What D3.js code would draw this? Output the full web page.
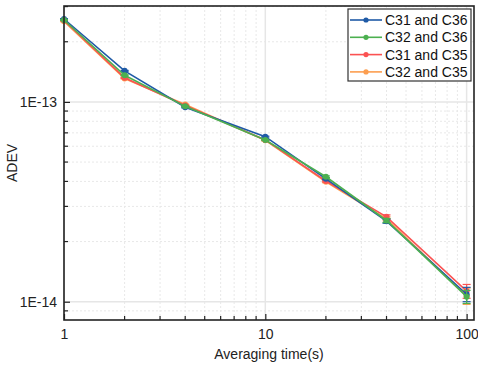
<!DOCTYPE html>
<html>
<head>
<meta charset="utf-8">
<script src="https://cdn.jsdelivr.net/npm/d3@7/dist/d3.min.js"></script>
<style>
  body { margin: 0; background: #fff; }
  svg { font-family: Arial, "Liberation Sans", sans-serif; }
</style>
</head>
<body>
<div id="chart"></div>
<script>
// averaging times (s)
const tau = [1, 2, 4, 10, 20, 40, 100];

const seriesNames = ['C31 and C36', 'C32 and C36', 'C31 and C35', 'C32 and C35'];
const seriesColors = ['#1f5aa6', '#4cb050', '#fb5252', '#fc9e50'];

// ADEV values
const adevC31C36 = [2.60e-13, 1.43e-13, 9.4e-14, 6.70e-14, 4.12e-14, 2.53e-14, 1.09e-14];
const adevC32C36 = [2.57e-13, 1.36e-13, 9.5e-14, 6.45e-14, 4.22e-14, 2.55e-14, 1.06e-14];
const adevC31C35 = [2.56e-13, 1.32e-13, 9.6e-14, 6.45e-14, 4.02e-14, 2.66e-14, 1.13e-14];
const adevC32C35 = [2.53e-13, 1.31e-13, 9.7e-14, 6.42e-14, 3.98e-14, 2.60e-14, 1.07e-14];

// error bar half-heights
const errC31C36 = [1e-15, 8e-16, 6e-16, 4e-16, 4e-16, 6e-16, 9e-16];
const errC32C36 = [1e-15, 8e-16, 6e-16, 4e-16, 4e-16, 6e-16, 8e-16];
const errC31C35 = [1e-15, 8e-16, 6e-16, 4e-16, 4e-16, 6e-16, 9e-16];
const errC32C35 = [1e-15, 8e-16, 6e-16, 4e-16, 4e-16, 6e-16, 1.0e-15];

const xTickLabels = [1, 10, 100];
const yTickLabels = [1e-14, 1e-13];

const values = [adevC31C36, adevC32C36, adevC31C35, adevC32C35];
const errors = [errC31C36, errC32C36, errC31C35, errC32C35];

const width = 478, height = 367;
const margin = { top: 6, right: 4, bottom: 47, left: 64 };
const plotW = width - margin.left - margin.right;
const plotH = height - margin.top - margin.bottom;

const svg = d3.select('#chart')
  .append('svg')
  .attr('width', width)
  .attr('height', height);

const g = svg.append('g')
  .attr('transform', `translate(${margin.left},${margin.top})`);

const x = d3.scaleLog()
  .domain([1, 108.8])
  .range([0, plotW]);

const y = d3.scaleLog()
  .domain([8.1e-15, 3.02e-13])
  .range([plotH, 0]);

// minor / major tick values
const xMinor = [], yMinor = [];
[1, 10, 100].forEach(d => {
  for (let k = 2; k <= 9; k++) if (d * k <= 108.8) xMinor.push(d * k);
});
[1e-15, 1e-14, 1e-13].forEach(d => {
  for (let k = 2; k <= 9; k++) {
    const v = d * k;
    if (v >= 8.1e-15 && v <= 3.02e-13) yMinor.push(v);
  }
});

// grid lines
g.append('g').selectAll('line')
  .data(xMinor)
  .join('line')
  .attr('x1', d => x(d)).attr('x2', d => x(d))
  .attr('y1', 0).attr('y2', plotH)
  .attr('stroke', '#e8e8e8')
  .attr('stroke-dasharray', '2,2');

g.append('g').selectAll('line')
  .data(yMinor)
  .join('line')
  .attr('x1', 0).attr('x2', plotW)
  .attr('y1', d => y(d)).attr('y2', d => y(d))
  .attr('stroke', '#e8e8e8')
  .attr('stroke-dasharray', '2,2');

g.append('g').selectAll('line')
  .data(xTickLabels)
  .join('line')
  .attr('x1', d => x(d)).attr('x2', d => x(d))
  .attr('y1', 0).attr('y2', plotH)
  .attr('stroke', '#e6e6e6')
  .attr('stroke-width', 1.5);

g.append('g').selectAll('line')
  .data(yTickLabels)
  .join('line')
  .attr('x1', 0).attr('x2', plotW)
  .attr('y1', d => y(d)).attr('y2', d => y(d))
  .attr('stroke', '#e6e6e6')
  .attr('stroke-width', 1.5);

// series: draw order so green ends up on top
const drawOrder = [3, 2, 0, 1];
const line = d3.line()
  .x((d, i) => x(tau[i]))
  .y(d => y(d));

drawOrder.forEach(s => {
  const sg = g.append('g');
  const col = seriesColors[s];
  const data = values[s].map((v, i) => ({ t: tau[i], v: v, e: errors[s][i] }));

  sg.append('path')
    .datum(values[s])
    .attr('fill', 'none')
    .attr('stroke', col)
    .attr('stroke-width', 1.6)
    .attr('d', line);

  // error bars
  const eb = sg.selectAll('.eb').data(data).join('g');
  eb.append('line')
    .attr('x1', d => x(d.t)).attr('x2', d => x(d.t))
    .attr('y1', d => y(d.v + d.e)).attr('y2', d => y(d.v - d.e))
    .attr('stroke', col).attr('stroke-width', 1.2);
  eb.append('line')
    .attr('x1', d => x(d.t) - 4).attr('x2', d => x(d.t) + 4)
    .attr('y1', d => y(d.v + d.e)).attr('y2', d => y(d.v + d.e))
    .attr('stroke', col).attr('stroke-width', 1.2);
  eb.append('line')
    .attr('x1', d => x(d.t) - 4).attr('x2', d => x(d.t) + 4)
    .attr('y1', d => y(d.v - d.e)).attr('y2', d => y(d.v - d.e))
    .attr('stroke', col).attr('stroke-width', 1.2);

  sg.selectAll('circle')
    .data(data)
    .join('circle')
    .attr('cx', d => x(d.t))
    .attr('cy', d => y(d.v))
    .attr('r', 3)
    .attr('fill', col);
});

// axes (ticks inward)
const fmtY = d => '1E' + Math.round(Math.log10(d));

const xAxis = g.append('g')
  .attr('transform', `translate(0,${plotH})`)
  .call(d3.axisBottom(x).tickValues(xTickLabels).tickFormat(d3.format('d'))
    .tickSizeInner(-6).tickSizeOuter(0).tickPadding(9));
xAxis.append('g').selectAll('line')
  .data(xMinor)
  .join('line')
  .attr('x1', d => x(d)).attr('x2', d => x(d))
  .attr('y1', 0).attr('y2', -4)
  .attr('stroke', '#222').attr('stroke-width', 1.2);

const yAxis = g.append('g')
  .call(d3.axisLeft(y).tickValues(yTickLabels).tickFormat(fmtY)
    .tickSizeInner(-6).tickSizeOuter(0).tickPadding(7));
yAxis.append('g').selectAll('line')
  .data(yMinor)
  .join('line')
  .attr('x1', 0).attr('x2', 4)
  .attr('y1', d => y(d)).attr('y2', d => y(d))
  .attr('stroke', '#222').attr('stroke-width', 1.2);

[xAxis, yAxis].forEach(a => {
  a.select('.domain').remove();
  a.selectAll('.tick line').attr('stroke', '#222').attr('stroke-width', 1.2);
  a.selectAll('.tick text')
    .attr('fill', '#222')
    .style('font-size', '14px')
    .style('font-family', 'Arial, "Liberation Sans", sans-serif');
});

// frame
g.append('rect')
  .attr('x', 0).attr('y', 0)
  .attr('width', plotW).attr('height', plotH)
  .attr('fill', 'none')
  .attr('stroke', '#222')
  .attr('stroke-width', 1.6);

// axis titles
svg.append('text')
  .attr('x', margin.left + plotW / 2)
  .attr('y', 359)
  .attr('text-anchor', 'middle')
  .attr('fill', '#222')
  .style('font-size', '14px')
  .text('Averaging time(s)');

svg.append('text')
  .attr('transform', `translate(17,${margin.top + plotH / 2}) rotate(-90)`)
  .attr('text-anchor', 'middle')
  .attr('fill', '#222')
  .style('font-size', '14px')
  .text('ADEV');

// legend
const lg = svg.append('g').attr('transform', 'translate(348,9)');
lg.append('rect')
  .attr('width', 123).attr('height', 72)
  .attr('fill', '#fff')
  .attr('stroke', '#333')
  .attr('stroke-width', 1.2);
seriesNames.forEach((name, i) => {
  const yy = 11 + i * 17.3;
  lg.append('line')
    .attr('x1', 2).attr('x2', 34)
    .attr('y1', yy).attr('y2', yy)
    .attr('stroke', seriesColors[i])
    .attr('stroke-width', 1.6);
  lg.append('circle')
    .attr('cx', 18).attr('cy', yy).attr('r', 2.6)
    .attr('fill', seriesColors[i]);
  lg.append('text')
    .attr('x', 37).attr('y', yy + 5)
    .attr('fill', '#111')
    .style('font-size', '14px')
    .text(name);
});
</script>
</body>
</html>
